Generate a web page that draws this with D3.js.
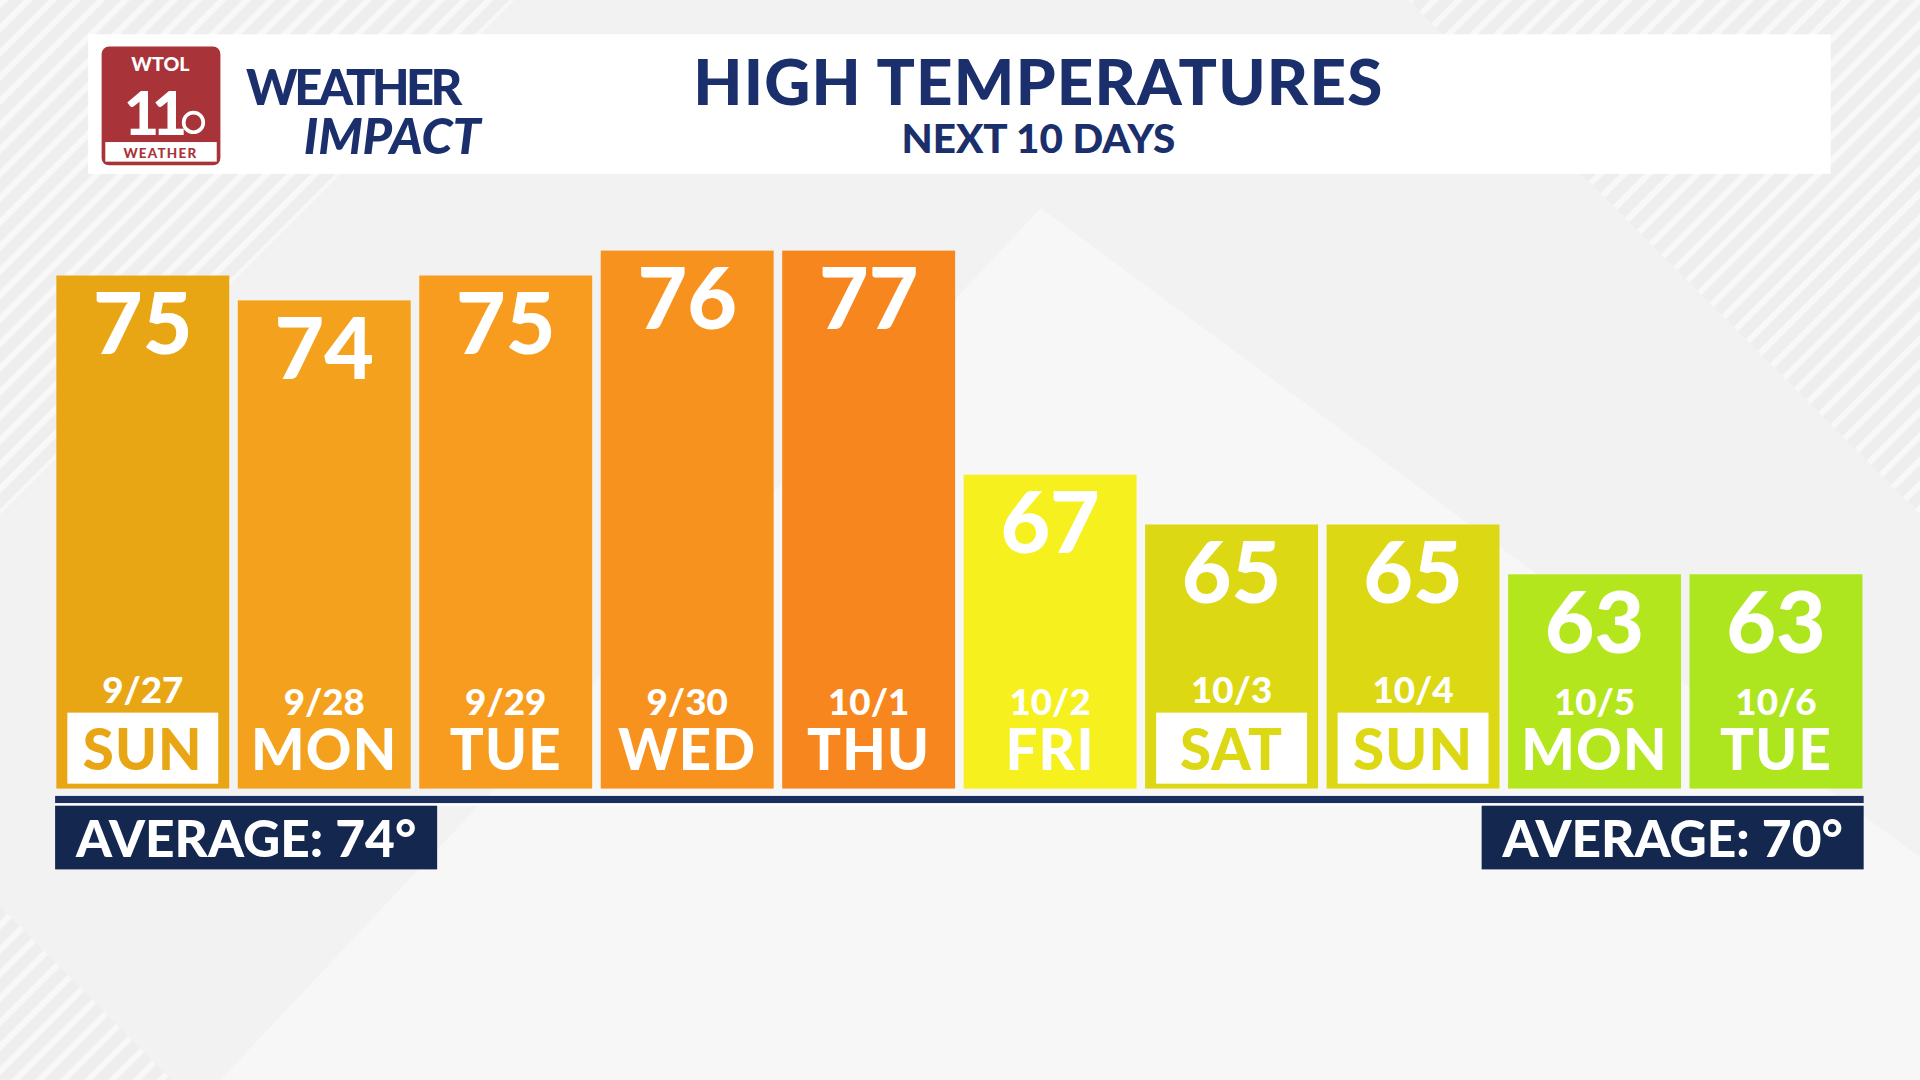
<!DOCTYPE html>
<meta charset="utf-8">
<script src="https://cdn.jsdelivr.net/npm/d3@7"></script>
<style>body{margin:0;overflow:hidden;background:#ececec}text{font-family:Lato,"Open Sans",sans-serif;font-weight:900}</style>
<div id="vis"></div>
<script>
const days = ["SUN","MON","TUE","WED","THU","FRI","SAT","SUN","MON","TUE"];
const dates = ["9/27","9/28","9/29","9/30","10/1","10/2","10/3","10/4","10/5","10/6"];
const highs = [75,74,75,76,77,67,65,65,63,63];
const colors = ["#e8a615","#f4a21d","#f79c1e","#f7921e","#f7861f","#f5f01e","#ddd814","#ddd814","#b4e61d","#ade61f"];
const boxed = [true,false,false,false,false,false,true,true,false,false];
const averages = ["AVERAGE: 74°","AVERAGE: 70°"];

const rows = highs.map((v,i) => ({i, v, day: days[i], date: dates[i], color: colors[i], boxed: boxed[i]}));

const W = 1568, H = 882, base = 644;
const svg = d3.select("#vis").append("svg")
  .attr("width",1920).attr("height",1080).attr("viewBox",`0 0 ${W} ${H}`);

// background
const defs = svg.append("defs");
const pat = defs.append("pattern").attr("id","st").attr("width",14).attr("height",14)
  .attr("patternUnits","userSpaceOnUse").attr("patternTransform","rotate(45)");
pat.append("rect").attr("width",14).attr("height",14).attr("fill","#eeeeee");
pat.append("rect").attr("width",5).attr("height",14).attr("fill","#f8f8f8");
svg.append("rect").attr("width",W).attr("height",H).attr("fill","url(#st)");
svg.append("path").attr("d","M0,420 L420,0 L1150,0 L1568,420 L1568,760 L1440,882 L140,882 L0,740 Z").attr("fill","#f2f2f2");
svg.append("path").attr("d","M180,882 L850,170 L1568,700 L1568,882 Z").attr("fill","#f7f7f7");

// header
svg.append("rect").attr("x",72).attr("y",28).attr("width",1423).attr("height",114).attr("fill","#fff");
svg.append("rect").attr("x",83).attr("y",38).attr("width",97).attr("height",97).attr("rx",6).attr("fill","#a8343a");
svg.append("rect").attr("x",86).attr("y",116).attr("width",91).attr("height",16).attr("fill","#fff");
svg.append("text").attr("x",131).attr("y",58).attr("text-anchor","middle").attr("font-size",16).attr("fill","#fff").text("WTOL");
svg.append("text").attr("x",124).attr("y",110).attr("text-anchor","middle").attr("font-size",50).attr("fill","#fff").attr("letter-spacing",-6).text("11");
svg.append("circle").attr("cx",158).attr("cy",100).attr("r",8).attr("fill","none").attr("stroke","#fff").attr("stroke-width",3);
svg.append("text").attr("x",131).attr("y",129).attr("text-anchor","middle").attr("font-size",11).attr("fill","#a8343a").attr("letter-spacing",1).text("WEATHER");
svg.append("text").attr("x",201).attr("y",86).attr("font-size",40).attr("fill","#1a2f6b").attr("letter-spacing",-3).text("WEATHER");
svg.append("text").attr("x",248).attr("y",126).attr("font-size",41).attr("font-style","italic").attr("fill","#1a2f6b").text("IMPACT");
svg.append("text").attr("x",848).attr("y",86).attr("text-anchor","middle").attr("font-size",52).attr("letter-spacing",1).attr("fill","#1a2f6b").text("HIGH TEMPERATURES");
svg.append("text").attr("x",848).attr("y",125).attr("text-anchor","middle").attr("font-size",33).attr("fill","#1a2f6b").text("NEXT 10 DAYS");

// bars
const x = d3.scaleBand().domain(d3.range(highs.length)).range([46,1521]).paddingInner(0.047);
const y = d3.scaleLinear().domain([63,75]).range([469,225]);
const barTop = v => Math.max(y(v), y(76));
const cx = d => x(d.i) + x.bandwidth()/2;
const g = svg.append("g").selectAll("g").data(rows).join("g");
g.append("rect").attr("x",d=>x(d.i)).attr("y",d=>barTop(d.v)).attr("width",x.bandwidth()).attr("height",d=>base-barTop(d.v)).attr("fill",d=>d.color);
g.append("text").attr("x",cx).attr("y",d=>barTop(d.v)+64).attr("text-anchor","middle")
  .attr("font-size",70).attr("fill","#fff").text(d=>d.v);
g.filter(d=>d.boxed).append("rect").attr("x",d=>x(d.i)+9).attr("y",582).attr("width",x.bandwidth()-18).attr("height",58).attr("fill","#fff");
g.append("text").attr("x",cx).attr("y",d=>d.boxed?574:584).attr("text-anchor","middle")
  .attr("font-size",30).attr("fill","#fff").text(d=>d.date);
g.append("text").attr("x",cx).attr("y",629).attr("text-anchor","middle")
  .attr("font-size",46).attr("letter-spacing",1).attr("fill",d=>d.boxed?d.color:"#fff").text(d=>d.day);

// baseline + averages
svg.append("rect").attr("x",45).attr("y",650).attr("width",1477).attr("height",6).attr("fill","#1b2f5e");
svg.append("rect").attr("x",45).attr("y",656).attr("width",1477).attr("height",2).attr("fill","#fff");
[[45,averages[0]],[1210,averages[1]]].forEach(([ax,t])=>{
  svg.append("rect").attr("x",ax).attr("y",658).attr("width",312).attr("height",52).attr("fill","#14274e");
  svg.append("text").attr("x",ax+156).attr("y",700).attr("text-anchor","middle").attr("font-size",42).attr("fill","#fff").text(t);
});
</script>
